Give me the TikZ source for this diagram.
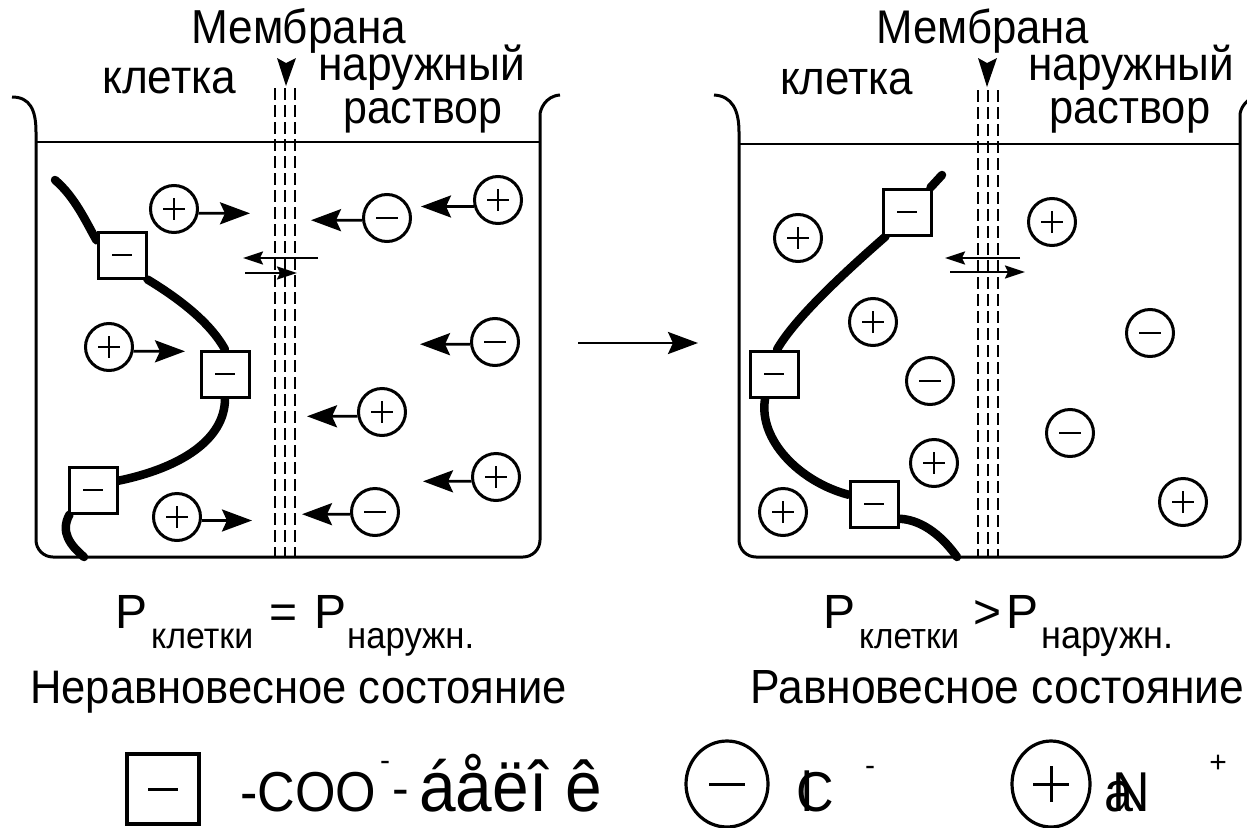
\documentclass[tikz,border=0pt]{standalone}
\usepackage{fontspec}
\setmainfont{Liberation Sans}
\usepackage{graphicx}
\usetikzlibrary{arrows.meta,calc,shapes.geometric}
\pgfdeclarelayer{background}
\pgfsetlayers{background,main}
\newcommand\fitt[2]{\scalebox{1}[1.08]{\resizebox{#1pt}{!}{\fontsize{40}{48}\selectfont #2}}}
\tikzset{
 thinln/.style={line width=3pt},
 signln/.style={line width=2.6pt},
 ion/.style={circle, draw, line width=3pt, minimum size=47pt, inner sep=0pt, fill=white},
 cation/.style={ion, path picture={\draw[signln] ($(path picture bounding box.center)+(-11,0)$) -- ++(22,0) ($(path picture bounding box.center)+(0,-11)$) -- ++(0,22);}},
 anion/.style={ion, path picture={\draw[signln] ($(path picture bounding box.center)+(-11,0)$) -- ++(22,0);}},
 grp/.style={rectangle, draw, line width=3pt, minimum width=48pt, minimum height=46pt, inner sep=0pt, fill=white, path picture={\draw[signln] ($(path picture bounding box.center)+(-10,0)$) -- ++(20,0);}},
 chainln/.style={line width=8.5pt, line cap=round},
 ionarrow/.style={line width=2.8pt, -{Stealth[length=30pt,width=22pt,inset=5pt]}},
 memarrow/.style={line width=2.2pt, -{Stealth[length=20pt,width=13pt,inset=3pt]}},
 memline/.style={line width=2pt, dash pattern=on 12pt off 5pt},
 lbl/.style={inner sep=0pt, anchor=base west},
 cbl/.style={inner sep=0pt, anchor=base},
}
\begin{document}
\begin{tikzpicture}[x=1pt,y=-1pt]
\useasboundingbox (0,0) rectangle (1247,827);

% ---------- beakers ----------
\draw[thinln] (12,97) .. controls (30,97) and (36,110) .. (36,132) [rounded corners=17pt] -- (36,557) -- (540,557) -- (540,132) [sharp corners] .. controls (540,110) and (545,96) .. (560,95);
\draw[line width=2.2pt] (36,142) -- (540,142);
\draw[thinln] (714,95) .. controls (732,96) and (739,110) .. (739,132) [rounded corners=17pt] -- (739,557) -- (1240,557) -- (1240,132) [sharp corners] .. controls (1240,110) and (1245,97) .. (1262,95);
\draw[line width=2.2pt] (739,144) -- (1240,144);

% ---------- membranes ----------
\foreach \mx in {275,285,295} \draw[memline] (\mx,88) -- (\mx,557);
\foreach \mx in {978,988,998} \draw[memline] (\mx,90) -- (\mx,557);
\fill (277,58) -- (286,63) -- (296,58) -- (286,86) -- cycle;
\fill (978,58) -- (987,63) -- (997,58) -- (987,87) -- cycle;

% ---------- labels top ----------
\node[lbl] (memL) at (191,43) {\fitt{215}{Мембрана}};
\node[lbl] (cellL) at (102,93) {\fitt{134}{клетка}};
\node[lbl] (outL1) at (318,80) {\fitt{207}{наружный}};
\node[lbl] (outL2) at (343,123) {\fitt{159}{раствор}};
\node[lbl] (memR) at (876,43) {\fitt{213}{Мембрана}};
\node[lbl] (cellR) at (780,94) {\fitt{133}{клетка}};
\node[lbl] (outR1) at (1028,80) {\fitt{206}{наружный}};
\node[lbl] (outR2) at (1049,123) {\fitt{161}{раствор}};

% ---------- left beaker: groups ----------
\node[grp] (s1) at (122,255) {};
\node[grp] (s2) at (225,374) {};
\node[grp] (s3) at (93,490) {};
\coordinate (c0) at (55,180);
\coordinate (c1) at (84,557);
\begin{pgfonlayer}{background}
\draw[chainln] (c0) .. controls (75,197) and (86,222) .. (s1.150);
\draw[chainln] (s1.south east) .. controls (178,298) and (210,322) .. (s2.north);
\draw[chainln] (s2.south) .. controls (225,440) and (180,468) .. (s3.20);
\draw[chainln] ([xshift=2pt]s3.south west) .. controls (60,532) and (70,545) .. (c1);
\end{pgfonlayer}

% ---------- left beaker: ions ----------
\node[cation] (a1) at (174,209) {};
\node[cation] (a2) at (109,347) {};
\node[cation] (a3) at (177,517) {};
\node[anion]  (a4) at (387,218) {};
\node[cation] (a5) at (498,200) {};
\node[anion]  (a6) at (495,342) {};
\node[cation] (a7) at (382,412) {};
\node[cation] (a8) at (496,477) {};
\node[anion]  (a9) at (375,512) {};
\coordinate (t1) at (250,213.3);
\coordinate (t2) at (185,351.3);
\coordinate (t3) at (252,520.5);
\coordinate (t4) at (311,220.2);
\coordinate (t5) at (421,206.5);
\coordinate (t6) at (420,344.2);
\coordinate (t7) at (307,416.3);
\coordinate (t8) at (423,481.3);
\coordinate (t9) at (302,514.2);
\draw[ionarrow] (a1.-10) -- (t1);
\draw[ionarrow] (a2.-10) -- (t2);
\draw[ionarrow] (a3.-8) -- (t3);
\draw[ionarrow] (a4.185) -- (t4);
\draw[ionarrow] (a5.195) -- (t5);
\draw[ionarrow] (a6.185) -- (t6);
\draw[ionarrow] (a7.190) -- (t7);
\draw[ionarrow] (a8.190) -- (t8);
\draw[ionarrow] (a9.185) -- (t9);

% membrane exchange arrows (left)
\coordinate (d1s) at (318,258); \coordinate (d1e) at (243,258);
\coordinate (d2s) at (245,273); \coordinate (d2e) at (297,273);
\draw[memarrow] (d1s) -- (d1e);
\draw[memarrow] (d2s) -- (d2e);

% ---------- transition arrow ----------
\coordinate (m1) at (578,343); \coordinate (m2) at (698,343);
\draw[ionarrow] (m1) -- (m2);

% ---------- right beaker: groups ----------
\node[grp] (s4) at (907,212) {};
\node[grp] (s5) at (774,374) {};
\node[grp] (s6) at (874,504) {};
\coordinate (c2) at (942,175);
\coordinate (c3) at (957,557);
\begin{pgfonlayer}{background}
\draw[chainln] (c2) -- ([xshift=-2pt]s4.north east);
\draw[chainln] ([xshift=4pt]s4.south west) .. controls (845,272) and (795,318) .. ([xshift=3pt]s5.north);
\draw[chainln] (s5.250) .. controls (758,440) and (800,482) .. (s6.160);
\draw[chainln] (s6.-30) .. controls (925,520) and (945,540) .. (c3);
\end{pgfonlayer}

% ---------- right beaker: ions ----------
\node[cation] (b1) at (798,238) {};
\node[cation] (b2) at (873,322) {};
\node[anion]  (b3) at (930,381) {};
\node[cation] (b4) at (934,463) {};
\node[cation] (b5) at (783,512) {};
\node[cation] (b6) at (1052,222) {};
\node[anion]  (b7) at (1150,333) {};
\node[anion]  (b8) at (1070,433) {};
\node[cation] (b9) at (1183,502) {};

% membrane exchange arrows (right)
\coordinate (e1s) at (1020,258); \coordinate (e1e) at (945,258);
\coordinate (e2s) at (950,272); \coordinate (e2e) at (1025,272);
\draw[memarrow] (e1s) -- (e1e);
\draw[memarrow] (e2s) -- (e2e);

% ---------- formulas ----------
\node[lbl] (p1) at (115,628) {\fontsize{48}{50}\selectfont P};
\node[lbl] (k1) at (151,648) {\fitt{102}{клетки}};
\node[cbl] (eq) at (284,628) {\fontsize{48}{50}\selectfont =};
\node[lbl] (p2) at (314,628) {\fontsize{48}{50}\selectfont P};
\node[lbl] (n1) at (347,648) {\fitt{127}{наружн.}};
\node[lbl] (st1) at (30,703) {\fitt{537}{Неравновесное состояние}};

\node[lbl] (p3) at (823,628) {\fontsize{48}{50}\selectfont P};
\node[lbl] (k2) at (859,648) {\fitt{100}{клетки}};
\node[cbl] (gt) at (988,628) {\fontsize{48}{50}\selectfont >};
\node[lbl] (p4) at (1006,628) {\fontsize{48}{50}\selectfont P};
\node[lbl] (n2) at (1041,648) {\fitt{132}{наружн.}};
\node[lbl] (st2) at (750,703) {\fitt{494}{Равновесное состояние}};

% ---------- legend ----------
\node[rectangle, draw, line width=4pt, minimum width=72pt, minimum height=70pt, inner sep=0pt,
  path picture={\draw[line width=3pt] ($(path picture bounding box.center)+(-15,0)$) -- ++(30,0);}] (L1) at (163,789) {};
\node[lbl] (coo) at (240,811) {\fitt{136}{-COO}};
\node[cbl] (sup1) at (385,770) {\fontsize{30}{30}\selectfont -};
\node[cbl] (dsh) at (401,805) {\fontsize{50}{54}\selectfont -};
\node[lbl] (prot) at (419,811) {\fitt{183}{áåëî ê}};

\node[ellipse, draw, line width=3.2pt, minimum width=82pt, minimum height=86pt, inner sep=0pt,
  path picture={\draw[line width=3pt] ($(path picture bounding box.center)+(-18,0)$) -- ++(36,0);}] (L2) at (727,784) {};
\node[lbl] (clion) at (796,811) {\scalebox{1}[1.08]{\fontsize{52}{54}\selectfont\rlap{\hspace{5pt}l}C}};
\node[cbl] (sup2) at (870,775) {\fontsize{30}{30}\selectfont -};

\node[ellipse, draw, line width=3.2pt, minimum width=78pt, minimum height=86pt, inner sep=0pt,
  path picture={\draw[line width=3pt] ($(path picture bounding box.center)+(-18,0)$) -- ++(36,0) ($(path picture bounding box.center)+(0,-18)$) -- ++(0,36);}] (L3) at (1051,784) {};
\node[lbl] (naion) at (1104,811) {\scalebox{1}[1.08]{\fontsize{52}{54}\selectfont\rlap{a}\hspace{8pt}N}};
\node[cbl] (sup3) at (1218,772) {\fontsize{30}{30}\selectfont +};
\end{tikzpicture}
\end{document}
